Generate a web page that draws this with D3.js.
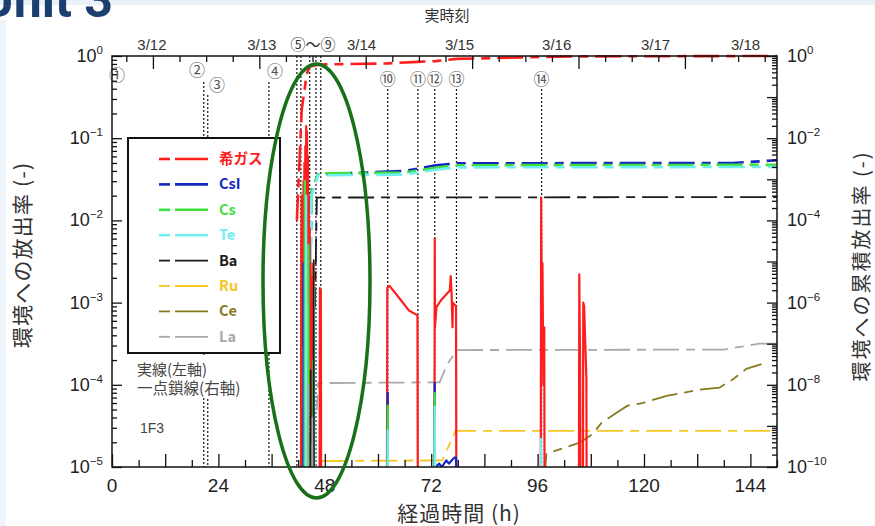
<!DOCTYPE html>
<html lang="ja">
<head>
<meta charset="utf-8">
<title>Unit 3</title>
<script src="https://d3js.org/d3.v7.min.js"></script>
<style>
body { margin: 0; background: #fff; }
svg text { font-family: "Liberation Sans", Arial, sans-serif; }
svg .jp { font-family: "Noto Sans CJK JP", sans-serif; }
</style>
</head>
<body>
<div id="chart"></div>
<script>
// legend order
var species = ["希ガス", "CsI", "Cs", "Te", "Ba", "Ru", "Ce", "La"];
var colors  = ["#ff1e1e", "#1428c0", "#3ee03e", "#72eef2", "#1a1a1a", "#f6c623", "#877a22", "#a9a9a9"];

// release rate (left axis), [elapsed h, rate]
var rateNoble = [[42.6,1e-6],[42.7,5e-3],[42.8,2e-2],[42.9,2e-3],[43.0,1e-2],[43.1,3e-4],[43.2,3e-2],[43.3,5e-3],
  [43.4,5e-2],[43.5,1e-3],[43.6,8e-2],[43.7,1e-2],[43.8,1.4e-1],[43.9,2e-2],[44.0,1.2e-1],[44.1,5e-3],[44.2,6e-2],
  [44.3,1e-3],[44.4,2e-2],[44.5,2e-4],[44.6,8e-3],[44.7,1e-4],[44.8,3e-3],[44.9,5e-5],[45.0,1e-3],[45.1,2e-5],
  [45.2,2e-3],[45.3,1e-5],[45.4,3e-3],[45.5,1e-6],[46.8,1e-6],[46.9,1.5e-3],[47.1,1.4e-3],[47.2,1e-6],
  [62.0,1e-6],[62.1,1.5e-3],[62.6,1.6e-3],[65.0,1.1e-3],[67.0,8e-4],[68.9,7e-4],[69.0,1e-6],
  [72.7,1e-6],[72.8,6e-3],[72.85,5e-4],[73.2,8.9e-4],[74.4,1.1e-3],[76.2,1.4e-3],[76.4,2.1e-3],[76.6,1.3e-3],[76.8,5e-4],
  [76.9,1e-3],[77.6,9e-4],[77.7,1e-6],
  [96.7,1e-6],[96.8,1.9e-2],[96.9,2e-3],[97.0,5e-4],[97.1,3e-3],[97.3,1e-4],[97.5,5e-4],[97.6,1e-6],
  [105.3,1e-6],[105.4,2.2e-3],[105.6,1.5e-4],[105.7,1e-6],[106.2,1e-6],[106.3,1e-3],[106.5,9e-4],[107.0,1.2e-4],[107.1,1e-6]];
var rateCsI = [[43.1,1e-6],[43.2,3e-3],[43.3,1e-6],[44.0,1e-6],[44.1,2e-4],[44.2,1e-6],
  [62.1,1e-6],[62.2,8e-5],[62.3,1e-6],[72.7,1e-6],[72.8,1.05e-4],[72.9,1e-6],
  [73.0,1e-5],[73.8,1.1e-5],[74.4,1e-5],[75.4,1.2e-5],[76.0,1.1e-5],[77.2,1.3e-5],[77.6,1.3e-5],[77.7,1e-6]];
var rateCs = [[43.4,1e-6],[43.5,3e-2],[43.6,1e-6],[44.2,1e-6],[44.3,5e-3],[44.4,1e-6],[45.3,1e-6],[45.4,2e-4],[45.5,1e-6],
  [62.1,1e-6],[62.2,5.6e-5],[62.3,1e-6],[72.7,1e-6],[72.8,7.9e-5],[72.9,1e-6]];
var rateTe = [[43.7,1e-6],[43.8,2e-2],[43.9,1e-6],[45.5,1e-6],[45.6,1.5e-3],[45.7,1e-6],
  [62.1,1e-6],[62.2,2.8e-5],[62.3,1e-6],[72.7,1e-6],[72.8,5.4e-5],[72.9,1e-6],[96.7,1e-6],[96.8,2.2e-5],[96.9,1e-6]];
var rateBa = [[44.7,1e-6],[44.8,1.5e-4],[44.9,1e-6],[45.4,1e-6],[45.5,3.3e-3],[45.6,1e-6]];
var rateLa = [[44.1,1e-6],[44.2,1e-4],[44.3,1e-6],[45.1,1e-6],[45.2,4e-5],[45.3,1e-6]];

// cumulative release fraction (right axis)
var cumNoble = [[41.7,1e-4],[42.8,5e-2],[43.9,0.35],[44.5,0.55],[46.0,0.6],[47.0,0.62],[62.0,0.66],[69.0,0.72],
  [73.0,0.75],[77.7,0.85],[97.0,0.95],[107.0,0.98],[150,1.0]];
var cumCsI = [[44.0,1e-11],[45.0,5e-4],[46.5,1.3e-3],[66.0,1.6e-3],[70.0,1.9e-3],[73.0,2.2e-3],[78.0,2.45e-3],[140,2.5e-3],[150,2.9e-3]];
var cumCs  = [[44.0,1e-11],[45.0,5e-4],[46.5,1.4e-3],[66.0,1.45e-3],[70.0,1.7e-3],[73.0,1.9e-3],[78.0,2.2e-3],[150,2.25e-3]];
var cumTe  = [[44.0,1e-11],[45.0,4e-4],[46.5,1.25e-3],[66.0,1.3e-3],[73.0,1.7e-3],[78.0,1.95e-3],[150,2.0e-3]];
var cumBa  = [[44.5,1e-11],[45.0,6e-7],[45.8,8e-7],[46.2,3.6e-4],[150,3.7e-4]];
var cumRu  = [[46.8,1e-11],[47.0,1.4e-10],[74.5,1.45e-10],[77.5,7.6e-10],[150,7.6e-10]];
var cumCe  = [[97.5,5e-11],[98.0,2.1e-10],[105.5,3.9e-10],[108.4,6.3e-10],[110.4,1.18e-9],[113.8,2.1e-9],[116.3,3.1e-9],
  [119.7,3.6e-9],[125.1,5.4e-9],[128.7,6.3e-9],[132.5,7.6e-9],[137.0,8.5e-9],[139.9,1.32e-8],[143.1,2.45e-8],[146.5,3.2e-8]];
var cumLa  = [[43.0,1e-11],[43.5,2.3e-9],[46.2,2.5e-9],[46.5,1.1e-8],[73.9,1.15e-8],[75.5,3e-8],[77.8,7e-8],[138,7.2e-8],[146,1.0e-7],[150,1.0e-7]];

var rates = [rateNoble, rateCsI, rateCs, rateTe, rateBa, [], [], rateLa];
var cums  = [cumNoble, cumCsI, cumCs, cumTe, cumBa, cumRu, cumCe, cumLa];

// event markers
var eventLabels = ["①","②","③","④","⑤","⑥","⑦","⑧","⑨","⑩","⑪","⑫","⑬","⑭"];
var eventHours  = [0, 20.7, 21.6, 35.4, 41.7, 42.6, 44.6, 46.0, 47.1, 62.2, 69.0, 72.8, 77.7, 96.9];

// top (clock time) labels, at elapsed hours
var dateLabels = ["3/12","3/13","3/14","3/15","3/16","3/17","3/18"];
var dateHours  = [9.0, 33.8, 56.3, 78.4, 100.3, 122.6, 142.9];

var xTicks = [0, 24, 48, 72, 96, 120, 144];

//layout
var w = 875, h = 526;
var pL = 112, pR = 777, pT = 56, pB = 467;

var svg = d3.select("#chart").append("svg").attr("width", w).attr("height", h);

// slide decoration
svg.append("rect").attr("x", 0).attr("y", 0).attr("width", w).attr("height", 5).attr("fill", "#e9f1f9");
svg.append("rect").attr("x", 0).attr("y", 20).attr("width", 6).attr("height", h - 20).attr("fill", "#eef4fa");
svg.append("text").attr("x", 113).attr("y", 17).attr("text-anchor", "end")
  .style("font-family", "Roboto, 'Liberation Sans', sans-serif").style("font-weight", "bold")
  .style("font-size", "50px").attr("fill", "#1b3f6e").text("Unit 3");

var x = d3.scaleLinear().domain([0, 150]).range([pL, pR]);
var yL = d3.scaleLog().domain([1e-5, 1]).range([pB, pT]);
var yR = d3.scaleLog().domain([1e-10, 1]).range([pB, pT]);

svg.append("clipPath").attr("id", "plot").append("rect")
  .attr("x", pL).attr("y", pT - 3).attr("width", pR - pL).attr("height", pB - pT + 3);

// event dotted lines
var labelPos = {"①":[117,75],"②":[197,70],"③":[217,85],"④":[275,71]};
eventLabels.forEach(function(lb, i) {
  var xi = x(eventHours[i]);
  var y0 = pT;
  if (i === 0) return;
  if (i === 1 || i === 3) y0 = 82;
  if (i === 2) y0 = 95;
  if (i >= 9) y0 = 89;
  svg.append("line").attr("x1", xi).attr("x2", xi).attr("y1", y0).attr("y2", pB)
    .attr("stroke", "#111").attr("stroke-width", 1.2).attr("stroke-dasharray", "2,2");
});
eventLabels.forEach(function(lb, i) {
  if (i >= 4 && i <= 8) return;
  var p = labelPos[lb] || [x(eventHours[i]), 79];
  svg.append("text").attr("class", "jp").attr("x", p[0]).attr("y", p[1] + 5.5)
    .attr("text-anchor", "middle").style("font-size", "16px").attr("fill", "#555").text(lb);
});
svg.append("text").attr("class", "jp").attr("x", 313).attr("y", 50).attr("text-anchor", "middle")
  .style("font-size", "15px").attr("fill", "#333").text("⑤～⑨");

// data lines
var g = svg.append("g").attr("clip-path", "url(#plot)");
var lineR = d3.line().x(function(d) { return x(d[0]); }).y(function(d) { return yR(Math.max(d[1], 1e-11)); });
var lineL = d3.line().x(function(d) { return x(d[0]); }).y(function(d) { return yL(Math.max(d[1], 1e-6)); });

cums.forEach(function(s, i) {
  g.append("path").attr("d", lineR(s)).attr("fill", "none").attr("stroke", colors[i])
    .attr("stroke-width", i < 4 ? 2.6 : 1.8).attr("stroke-dasharray", "26,7,9,7");
});
rates.forEach(function(s, i) {
  if (!s.length) return;
  g.append("path").attr("d", lineL(s)).attr("fill", "none").attr("stroke", colors[i])
    .attr("stroke-width", i < 4 ? 2.2 : 1.6).attr("stroke-linejoin", "round");
});

// frame
svg.append("rect").attr("x", pL).attr("y", pT).attr("width", pR - pL).attr("height", pB - pT)
  .attr("fill", "none").attr("stroke", "#111").attr("stroke-width", 1.5);

function decadeMinors(lo, hi) {
  var out = [];
  for (var e = lo; e < hi; e++) for (var m = 2; m <= 9; m++) out.push(m * Math.pow(10, e));
  return out;
}
function decades(lo, hi) {
  var out = [];
  for (var e = lo; e <= hi; e++) out.push(Math.pow(10, e));
  return out;
}
function styleAxis(sel) {
  sel.select(".domain").remove();
  sel.selectAll("line").attr("stroke", "#111").attr("stroke-width", 1.3);
}

// left axis
svg.append("g").attr("transform", "translate(" + pL + ",0)")
  .call(d3.axisLeft(yL).tickValues(decades(-5, 0)).tickSizeInner(-10).tickSizeOuter(0).tickFormat("")).call(styleAxis);
svg.append("g").attr("transform", "translate(" + pL + ",0)")
  .call(d3.axisLeft(yL).tickValues(decadeMinors(-5, 0)).tickSizeInner(-5).tickSizeOuter(0).tickFormat("")).call(styleAxis);
// right axis
svg.append("g").attr("transform", "translate(" + pR + ",0)")
  .call(d3.axisRight(yR).tickValues(decades(-10, 0)).tickSizeInner(-10).tickSizeOuter(0).tickFormat("")).call(styleAxis);
svg.append("g").attr("transform", "translate(" + pR + ",0)")
  .call(d3.axisRight(yR).tickValues(decadeMinors(-10, 0)).tickSizeInner(-5).tickSizeOuter(0).tickFormat("")).call(styleAxis);
// bottom axis
svg.append("g").attr("transform", "translate(0," + pB + ")")
  .call(d3.axisBottom(x).tickValues(d3.range(0, 151, 12)).tickSizeInner(-13).tickSizeOuter(0).tickFormat("")).call(styleAxis);
svg.append("g").attr("transform", "translate(0," + pB + ")")
  .call(d3.axisBottom(x).tickValues(d3.range(6, 151, 12)).tickSizeInner(-7).tickSizeOuter(0).tickFormat("")).call(styleAxis);
// top axis (clock time, 6 h steps from 3/11 18:00)
svg.append("g").attr("transform", "translate(0," + pT + ")")
  .call(d3.axisTop(x).tickValues(d3.range(9.23, 150, 24)).tickSizeInner(-13).tickSizeOuter(0).tickFormat("")).call(styleAxis);
svg.append("g").attr("transform", "translate(0," + pT + ")")
  .call(d3.axisTop(x).tickValues(d3.range(3.23, 150, 24).concat(d3.range(15.23, 150, 24), d3.range(21.23, 150, 24)))
  .tickSizeInner(-6).tickSizeOuter(0).tickFormat("")).call(styleAxis);

// tick labels
function powLabel(xp, yp, e, anchor) {
  var t = svg.append("text").attr("x", xp).attr("y", yp).attr("text-anchor", anchor)
    .style("font-size", "18px").attr("fill", "#222");
  t.append("tspan").text("10");
  t.append("tspan").attr("dy", -8).style("font-size", "11.5px").text(e === 0 ? "0" : "−" + (-e));
}
decades(-5, 0).forEach(function(v) { powLabel(103, yL(v) + 6, Math.round(Math.log10(v)), "end"); });
decades(-10, 0).filter(function(v, i) { return i % 2 === 0; })
  .forEach(function(v) { powLabel(787, yR(v) + 6, Math.round(Math.log10(v)), "start"); });
xTicks.forEach(function(v) {
  svg.append("text").attr("x", x(v)).attr("y", 492).attr("text-anchor", "middle")
    .style("font-size", "19px").attr("fill", "#222").text(v);
});
dateLabels.forEach(function(d, i) {
  svg.append("text").attr("x", x(dateHours[i])).attr("y", 50).attr("text-anchor", "middle")
    .style("font-size", "15px").attr("fill", "#333").text(d);
});

// titles
svg.append("text").attr("class", "jp").attr("x", 447).attr("y", 21).attr("text-anchor", "middle")
  .style("font-size", "15px").attr("fill", "#333").text("実時刻");
svg.append("text").attr("class", "jp").attr("x", 459).attr("y", 521).attr("text-anchor", "middle")
  .style("font-size", "21px").style("letter-spacing", "1px").attr("fill", "#333").text("経過時間 (h)");
svg.append("text").attr("class", "jp").attr("transform", "translate(30,255) rotate(-90)").attr("text-anchor", "middle")
  .style("font-size", "21px").style("letter-spacing", "1.2px").attr("fill", "#333").text("環境への放出率 (-)");
svg.append("text").attr("class", "jp").attr("transform", "translate(869,266) rotate(-90)").attr("text-anchor", "middle")
  .style("font-size", "20px").style("letter-spacing", "2px").attr("fill", "#333").text("環境への累積放出率 (-)");

// legend
svg.append("rect").attr("x", 128).attr("y", 138).attr("width", 152).attr("height", 215)
  .attr("fill", "#fff").attr("stroke", "#111").attr("stroke-width", 2);
species.forEach(function(s, i) {
  var yy = 159 + i * 25.4;
  var sw = i < 4 ? 2.6 : 1.8;
  svg.append("line").attr("x1", 159).attr("x2", 170).attr("y1", yy).attr("y2", yy).attr("stroke", colors[i]).attr("stroke-width", sw);
  svg.append("line").attr("x1", 175).attr("x2", 208).attr("y1", yy).attr("y2", yy).attr("stroke", colors[i]).attr("stroke-width", sw);
  svg.append("text").attr("class", "jp").attr("x", 219).attr("y", yy + 5).style("font-size", "14.5px")
    .style("font-weight", "bold").attr("fill", colors[i]).text(s);
});
svg.append("rect").attr("x", 130).attr("y", 355).attr("width", 126).attr("height", 43).attr("fill", "#fff");
svg.append("text").attr("class", "jp").attr("x", 137).attr("y", 375).style("font-size", "15px").attr("fill", "#444").text("実線(左軸)");
svg.append("text").attr("class", "jp").attr("x", 137).attr("y", 394).style("font-size", "15.5px").attr("fill", "#444").text("一点鎖線(右軸)");
svg.append("text").attr("x", 140).attr("y", 433).style("font-size", "14px").attr("fill", "#444").text("1F3");

// highlight ellipse
svg.append("ellipse").attr("cx", 316.5).attr("cy", 281).attr("rx", 53.5).attr("ry", 217)
  .attr("fill", "none").attr("stroke", "#187018").attr("stroke-width", 3.5);
</script>
</body>
</html>
